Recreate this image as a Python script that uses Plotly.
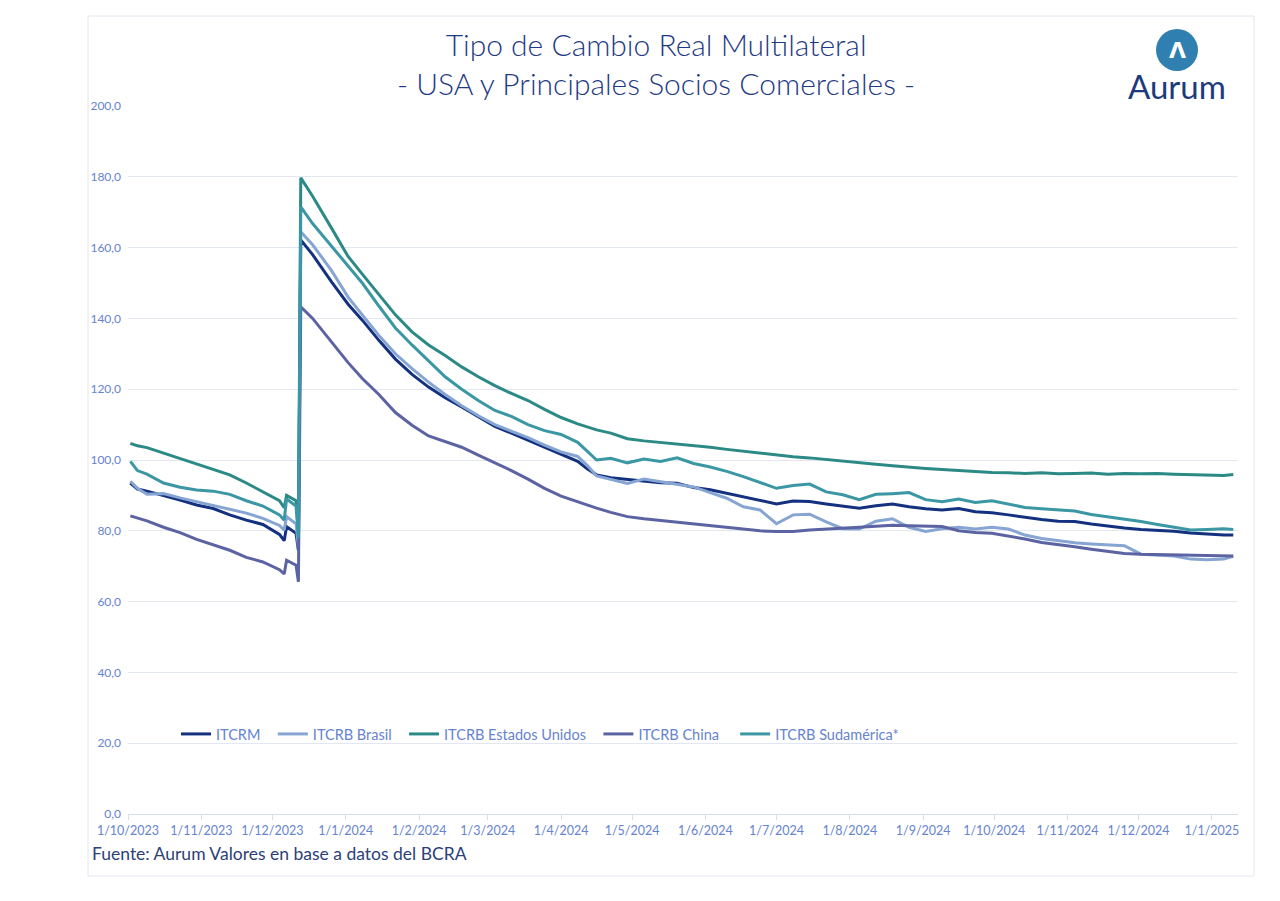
import plotly.graph_objects as go

dates = [
    "2023-10-02", "2023-10-05", "2023-10-09", "2023-10-16", "2023-10-23", "2023-10-30",
    "2023-11-06", "2023-11-13", "2023-11-20", "2023-11-27", "2023-12-04", "2023-12-06",
    "2023-12-07", "2023-12-11", "2023-12-12", "2023-12-13",
    "2023-12-18", "2023-12-26",
    "2024-01-02", "2024-01-08", "2024-01-15", "2024-01-22", "2024-01-29",
    "2024-02-05", "2024-02-12", "2024-02-19", "2024-02-26",
    "2024-03-04", "2024-03-11", "2024-03-18", "2024-03-25",
    "2024-04-01", "2024-04-08", "2024-04-12", "2024-04-16", "2024-04-22", "2024-04-29",
    "2024-05-06", "2024-05-13", "2024-05-20", "2024-05-27",
    "2024-06-03", "2024-06-10", "2024-06-17", "2024-06-24",
    "2024-07-01", "2024-07-08", "2024-07-15", "2024-07-22", "2024-07-29",
    "2024-08-05", "2024-08-12", "2024-08-19", "2024-08-26",
    "2024-09-02", "2024-09-09", "2024-09-16", "2024-09-23", "2024-09-30",
    "2024-10-07", "2024-10-14", "2024-10-21", "2024-10-28",
    "2024-11-04", "2024-11-11", "2024-11-18", "2024-11-25",
    "2024-12-02", "2024-12-09", "2024-12-16", "2024-12-23", "2024-12-30",
    "2025-01-06", "2025-01-10",
]

itcrm = [
    93.5, 91.8, 91.2, 90.0, 88.7, 87.3, 86.3, 84.5, 83.0, 81.8, 79.0, 77.2, 81.2, 79.3, 74.5, 162.2,
    158.0, 150.3,
    144.0, 139.5, 133.8, 128.5, 124.2,
    120.6, 117.6, 115.0, 112.3,
    109.5, 107.6, 105.6, 103.6,
    101.8, 99.6, 97.5, 95.8, 95.0, 94.5,
    93.9, 93.6, 93.4, 92.2,
    91.6, 90.6, 89.4, 88.5,
    87.6, 88.4, 88.3, 87.6, 87.0,
    86.4, 87.1, 87.6, 86.8,
    86.2, 85.9, 86.3, 85.4, 85.1,
    84.5, 83.8, 83.2, 82.7,
    82.6, 81.9, 81.3, 80.8,
    80.4, 80.2, 79.9, 79.4, 79.0,
    78.8, 78.8,
]

brasil = [
    94.0, 92.0, 90.3, 90.5, 89.3, 88.2, 87.3, 86.0, 85.0, 83.5, 81.5, 80.2, 84.0, 82.0, 75.5, 164.5,
    160.8, 153.5,
    146.0, 141.0, 135.2, 130.0, 125.8,
    122.0, 118.5, 115.3, 112.5,
    110.0, 108.2, 106.3, 104.2,
    102.3, 101.0, 98.5, 95.5, 94.6, 93.4,
    94.6, 93.8, 93.0, 92.4,
    90.8, 89.2, 86.8, 85.9,
    82.0, 84.5, 84.7, 82.5, 80.6,
    80.5, 82.7, 83.4, 81.0,
    79.8, 80.6, 81.0, 80.5, 81.0,
    80.5, 78.8, 77.8, 77.1,
    76.6, 76.3, 76.1, 75.8,
    73.4, 73.2, 72.9, 72.0, 71.8,
    72.0, 72.8,
]

eeuu = [
    104.7, 104.0, 103.5, 102.0, 100.4, 98.8, 97.3, 95.8, 93.5, 91.0, 88.5, 86.5, 90.0, 88.5, 79.5, 179.7,
    174.5, 165.5,
    157.5, 152.5, 146.8, 141.0, 136.2,
    132.5, 129.5, 126.3, 123.5,
    121.0, 118.8, 116.8, 114.3,
    112.0, 110.2, 109.4, 108.5, 107.6, 106.0,
    105.4, 105.0, 104.5, 104.0,
    103.6, 103.0, 102.5, 101.9,
    101.3, 100.9, 100.6, 100.1, 99.7,
    99.3, 98.8, 98.4, 97.9,
    97.6, 97.3, 97.0, 96.7, 96.5,
    96.4, 96.2, 96.4, 96.1,
    96.2, 96.3, 96.0, 96.2,
    96.1, 96.2, 96.0, 95.9, 95.6,
    95.6, 95.9,
]

china = [
    84.2, 83.6, 82.8, 81.0, 79.5, 77.6, 76.0, 74.5, 72.5, 71.2, 69.0, 67.8, 71.7, 70.3, 65.6, 143.3,
    140.0, 133.5,
    127.5, 123.0, 118.5, 113.4, 109.8,
    106.8, 105.2, 103.6, 101.4,
    99.3, 97.0, 94.6, 92.0,
    89.8, 88.2, 87.2, 86.4, 85.2, 84.0,
    83.4, 82.9, 82.4, 82.0,
    81.5, 81.0, 80.5, 80.0,
    79.8, 79.8, 80.2, 80.4, 80.7,
    81.0, 81.3, 81.6, 81.4,
    81.2, 81.2, 80.0, 79.5, 79.3,
    78.6, 77.7, 76.7, 76.2,
    75.5, 74.8, 74.2, 73.6,
    73.4, 73.3, 73.2, 73.2, 73.1,
    73.0, 72.9,
]

sudamerica = [
    99.6, 97.0, 96.0, 93.5, 92.3, 91.5, 91.2, 90.3, 88.5, 87.0, 84.5, 83.0, 89.0, 87.0, 78.0, 171.5,
    166.8, 160.5,
    154.8, 150.0, 143.5, 137.3, 132.5,
    128.0, 123.5, 120.0, 116.8,
    114.0, 112.3, 110.0, 108.3,
    107.2, 105.0, 102.5, 100.0, 100.5, 99.2,
    100.3, 99.6, 100.6, 99.0,
    98.0, 96.8, 95.3, 93.6,
    92.0, 92.8, 93.2, 91.0, 90.2,
    88.8, 90.3, 90.5, 90.8,
    88.8, 88.2, 89.0, 88.0, 88.5,
    87.6, 86.6, 86.2, 85.9,
    85.6, 84.6, 84.0, 83.4,
    82.6, 81.8, 81.0, 80.2, 80.4,
    80.6, 80.4,
]

series_names = ["ITCRM", "ITCRB Brasil", "ITCRB Estados Unidos", "ITCRB China", "ITCRB Sudamérica*"]
series_values = [itcrm, brasil, eeuu, china, sudamerica]
series_colors = ["#14317f", "#86a5d3", "#2b8a86", "#5b63a2", "#3a97a3"]
legend_pad = [2, 2, 2, 3, 0]  # extra spacing after each legend entry

tick_dates = [
    "2023-10-01", "2023-11-01", "2023-12-01", "2024-01-01", "2024-02-01", "2024-03-01",
    "2024-04-01", "2024-05-01", "2024-06-01", "2024-07-01", "2024-08-01", "2024-09-01",
    "2024-10-01", "2024-11-01", "2024-12-01", "2025-01-01",
]
tick_labels = [
    "1/10/2023", "1/11/2023", "1/12/2023", "1/1/2024", "1/2/2024", "1/3/2024",
    "1/4/2024", "1/5/2024", "1/6/2024", "1/7/2024", "1/8/2024", "1/9/2024",
    "1/10/2024", "1/11/2024", "1/12/2024", "1/1/2025",
]
y_ticks = [0, 20, 40, 60, 80, 100, 120, 140, 160, 180, 200]
y_labels = [f"{v:.1f}".replace(".", ",") for v in y_ticks]

FONT = "Lato"
LABEL_COLOR = "#6683cf"
NAVY = "#1f3a85"

fig = go.Figure()
for name, vals, col, pad in zip(series_names, series_values, series_colors, legend_pad):
    fig.add_trace(go.Scatter(
        x=dates, y=vals, name=name + "\u00a0" * pad, mode="lines",
        line=dict(color=col, width=3),
    ))

# the page body adds an 8px offset; lay out in screen pixels minus that offset
OFF = 8
W, H = 1280 - OFF, 901 - OFF
PL, PR, PT, PB = 128, 1238, 106, 814  # plot area in screen pixels
L, R, T, B = PL - OFF, W - (PR - OFF), PT - OFF, H - (PB - OFF)
pw, ph = W - L - R, H - T - B


def px(x):
    return (x - OFF - L) / pw


def py(y):
    return (H - B - (y - OFF)) / ph


fig.update_layout(
    width=W, height=H,
    margin=dict(l=L, r=R, t=T, b=B),
    paper_bgcolor="white", plot_bgcolor="white",
    font=dict(family=FONT, color=LABEL_COLOR, size=12),
    showlegend=True,
    legend=dict(
        orientation="h", x=px(176), y=py(734), xanchor="left", yanchor="middle",
        font=dict(size=14.5, color=LABEL_COLOR, family=FONT),
        bgcolor="rgba(0,0,0,0)", itemwidth=30, tracegroupgap=0,
    ),
    xaxis=dict(
        type="date", range=["2023-10-01", "2025-01-12"],
        tickmode="array", tickvals=tick_dates, ticktext=tick_labels,
        showgrid=False, showline=True, linecolor="#d6dcea", linewidth=1,
        ticks="outside", ticklen=5, tickcolor="#d6dcea",
        tickfont=dict(size=12.5, color=LABEL_COLOR, family=FONT),
        zeroline=False,
    ),
    yaxis=dict(
        range=[0, 200], tickmode="array", tickvals=y_ticks, ticktext=y_labels,
        showgrid=True, gridcolor="#e3e7f2", gridwidth=1,
        showline=False, zeroline=False, ticks="",
        tickfont=dict(size=12, color=LABEL_COLOR, family=FONT),
        ticklabelstandoff=6,
    ),
)

# frame
fig.add_shape(type="rect", xref="paper", yref="paper",
              x0=px(88), x1=px(1254), y0=py(876), y1=py(16),
              line=dict(color="#e2e6ef", width=1), fillcolor="rgba(0,0,0,0)", layer="below")

# title (two lines in one text block)
fig.add_annotation(xref="paper", yref="paper", x=px(656), y=py(64),
                   text="Tipo de Cambio Real Multilateral<br>- USA y Principales Socios Comerciales -",
                   showarrow=False, align="center",
                   font=dict(size=30, color=NAVY, family=FONT, weight=300),
                   xanchor="center", yanchor="middle")

# source
fig.add_annotation(xref="paper", yref="paper", x=px(90), y=py(853),
                   text="Fuente: Aurum Valores en base a datos del BCRA", showarrow=False,
                   font=dict(size=17.5, color="#2c3f78", family=FONT), xanchor="left", yanchor="middle")

# logo
fig.add_shape(type="circle", xref="paper", yref="paper",
              x0=px(1156), x1=px(1198), y0=py(71), y1=py(29),
              line=dict(color="#2f7fb0", width=0), fillcolor="#2f7fb0")
fig.add_annotation(xref="paper", yref="paper", x=px(1177), y=py(50),
                   text="<b>Λ</b>", showarrow=False,
                   font=dict(size=22, color="white", family="DejaVu Sans"), xanchor="center", yanchor="middle")
fig.add_annotation(xref="paper", yref="paper", x=px(1177), y=py(86),
                   text="Aurum", showarrow=False,
                   font=dict(size=33, color="#1d3a7c", family=FONT), xanchor="center", yanchor="middle")

fig.write_html("out.html")
